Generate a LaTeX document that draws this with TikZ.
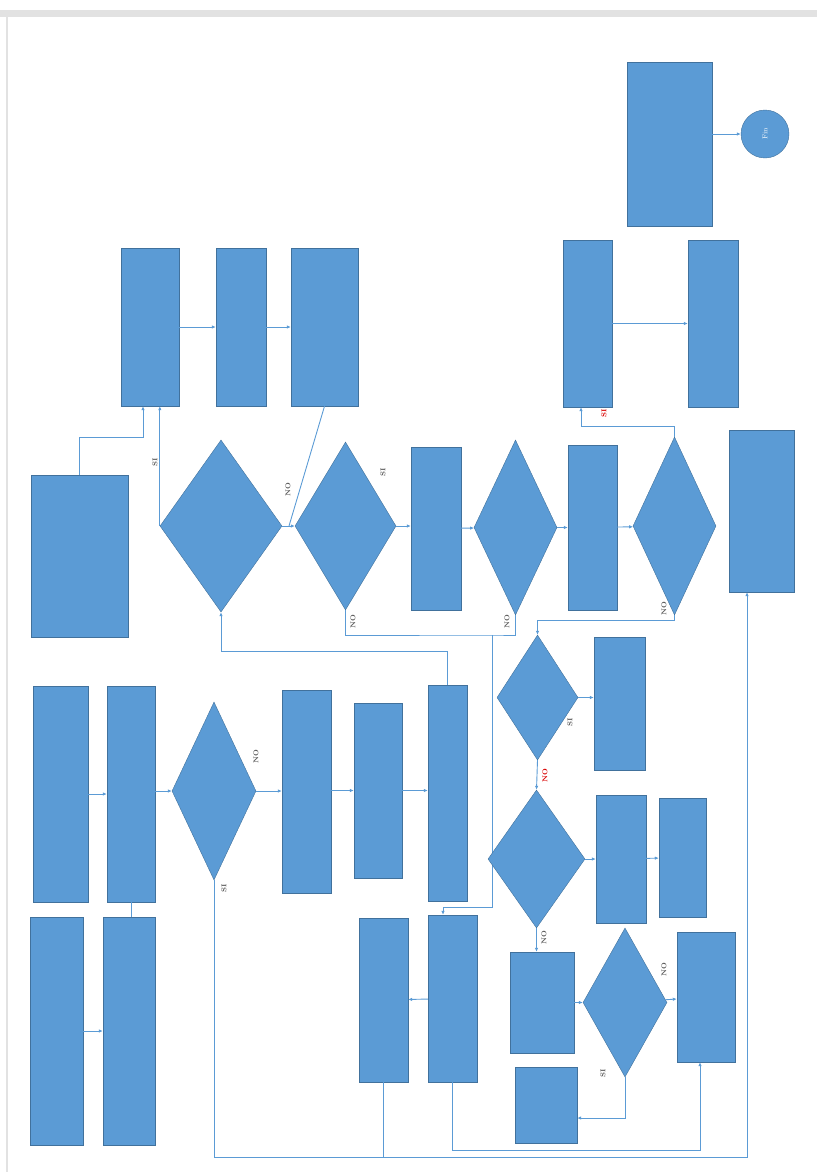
\documentclass[tikz,border=0pt]{standalone}
\usepackage{xcolor}
\usetikzlibrary{arrows.meta,shapes.geometric}
\definecolor{flowblue}{RGB}{91,155,213}
\definecolor{flowedge}{RGB}{65,113,156}
\definecolor{pagegray}{RGB}{226,226,226}

\begin{document}
\begin{tikzpicture}[
  x=1pt,y=-1pt,
  font=\scriptsize,
  box/.style={rectangle,draw=flowedge,fill=flowblue,inner sep=0pt},
  dec/.style={diamond,draw=flowedge,fill=flowblue,inner sep=0pt},
  term/.style={circle,draw=flowedge,fill=flowblue,inner sep=0pt,minimum size=48pt,text=white},
  link/.style={flowblue,line width=0.9pt},
  arr/.style={link,-{Latex[length=4pt,width=3.5pt]}},
  ans/.style={font=\scriptsize\bfseries,text=black!65,rotate=90,inner sep=1pt},
  ansred/.style={ans,text=red!85!black}
]
\useasboundingbox (0,0) rectangle (817,1172);

% page edge
\fill[pagegray] (0,10) rectangle (817,17);
\fill[pagegray] (6,17) rectangle (8,1172);

%%%%%%%%%%%%%%%%%%%%%%%%%%%%%%%%%%%%%%%%%%%%%%%%%%%%
% top row
%%%%%%%%%%%%%%%%%%%%%%%%%%%%%%%%%%%%%%%%%%%%%%%%%%%%
\node[box,minimum width=85pt,minimum height=164pt] (E1) at (669.5,144) {};
\node[term,rotate=90] (E2) at (765,134) {Fin};

\node[box,minimum width=58pt,minimum height=158pt] (A1) at (150,327) {};
\node[box,minimum width=50pt,minimum height=158pt] (A2) at (241,327) {};
\node[box,minimum width=67pt,minimum height=158pt] (A3) at (324.5,327) {};
\node[box,minimum width=49pt,minimum height=167pt] (B1) at (587.5,323.5) {};
\node[box,minimum width=50pt,minimum height=167pt] (B2) at (713,323.5) {};

\draw[arr] (E1.east |- E2) -- (E2);
\draw[arr] (A1) -- (A2);
\draw[arr] (A2) -- (A3);
\draw[arr] (B1) -- (B2);

%%%%%%%%%%%%%%%%%%%%%%%%%%%%%%%%%%%%%%%%%%%%%%%%%%%%
% middle row
%%%%%%%%%%%%%%%%%%%%%%%%%%%%%%%%%%%%%%%%%%%%%%%%%%%%
\node[box,minimum width=97pt,minimum height=162pt] (C0) at (79.5,556) {};
\node[dec,minimum width=122pt,minimum height=172pt] (D1) at (221,526) {};
\node[dec,minimum width=101pt,minimum height=168pt] (D2) at (345.5,526) {};
\node[box,minimum width=50pt,minimum height=163pt] (C2) at (436,528.5) {};
\node[dec,minimum width=83pt,minimum height=175pt] (D3) at (515.5,527.5) {};
\node[box,minimum width=49pt,minimum height=165pt] (C4) at (592.5,527.5) {};
\node[dec,minimum width=83pt,minimum height=178pt] (D5) at (674.5,526) {};
\node[box,minimum width=65pt,minimum height=162pt] (C6) at (761.5,511) {};

\coordinate (J1) at (289,526);
\coordinate (J3) at (492,635);

\draw[arr] (C0.north) -- ++(0,-37) -| ([xshift=-7pt]A1.south);
\draw[arr] (D1.west) -- (D1.west |- A1.south);
\node[ans] at (155,462) {SI};
\draw[arr] (D1.east) -- (D2.west);
\draw[link] (A3.south) -- (J1);
\node[ans] at (288,490) {NO};
\draw[arr] (D2.east) -- (D2.east -| C2.west);
\node[ans] at (383,472) {SI};
\draw[arr] (C2) -- (D3);
\draw[arr] (D3) -- (C4);
\draw[arr] (C4) -- (D5);

\draw[link] (D2.south) |- (J3) -| (D3.south);
\node[ans] at (353,622) {NO};
\node[ans] at (507,622) {NO};

\draw[arr] (D5.north) -- ++(0,-10) -| ([xshift=-6.5pt]B1.south);
\node[ansred] at (604,413) {SI};

%%%%%%%%%%%%%%%%%%%%%%%%%%%%%%%%%%%%%%%%%%%%%%%%%%%%
% lower left
%%%%%%%%%%%%%%%%%%%%%%%%%%%%%%%%%%%%%%%%%%%%%%%%%%%%
\node[box,minimum width=55pt,minimum height=216pt] (L1) at (60.5,794) {};
\node[box,minimum width=48pt,minimum height=216pt] (L2) at (131,794) {};
\node[dec,minimum width=84pt,minimum height=178pt] (D4) at (214,791) {};
\node[box,minimum width=49pt,minimum height=203pt] (M1) at (306.5,791.5) {};
\node[box,minimum width=48pt,minimum height=175pt] (M2) at (378,790.5) {};
\node[box,minimum width=39pt,minimum height=216pt] (M3) at (447.5,793) {};
\node[box,minimum width=53pt,minimum height=228pt] (L3) at (56.5,1031) {};
\node[box,minimum width=52pt,minimum height=228pt] (L4) at (129,1031) {};
\node[box,minimum width=49pt,minimum height=164pt] (M4) at (383.5,1000) {};
\node[box,minimum width=49pt,minimum height=167pt] (M5) at (452.5,998.5) {};

\coordinate (bus) at (214,1157);

\draw[arr] (L1.east) -- (L2.west);
\draw[arr] (L2.east |- D4.west) -- (D4.west);
\draw[arr] (D4.east) -- (D4.east -| M1.west);
\node[ans] at (256,757) {NO};
\draw[arr] (M1.east |- M2.west) -- (M2.west);
\draw[arr] (M2.east) -- (M2.east -| M3.west);
\draw[arr] (M3.north) -- ++(0,-33) -| (D1.south);
\draw[arr] (L3) -- (L4);
\draw[link] (L2.south) -- (L2.south |- L4.north);

\draw[arr] (J3) -- ++(0,272) -| ([xshift=-9.5pt]M5.north);
\draw[arr] (M5) -- (M4);
\draw[arr] (D4.south) -- (bus) -| ([xshift=-14.5pt]C6.south);
\node[ans] at (224,888) {SI};
\draw[link] (M4.south) -- (M4.south |- bus);

%%%%%%%%%%%%%%%%%%%%%%%%%%%%%%%%%%%%%%%%%%%%%%%%%%%%
% lower right
%%%%%%%%%%%%%%%%%%%%%%%%%%%%%%%%%%%%%%%%%%%%%%%%%%%%
\node[dec,minimum width=81pt,minimum height=125pt] (D6) at (537.5,697.5) {};
\node[box,minimum width=51pt,minimum height=133pt] (P1) at (619.5,703.5) {};
\node[dec,minimum width=97pt,minimum height=138pt] (D7) at (536.5,859) {};
\node[box,minimum width=50pt,minimum height=128pt] (Q1) at (621,859) {};
\node[box,minimum width=47pt,minimum height=119pt] (Q2) at (682.5,857.5) {};
\node[box,minimum width=64pt,minimum height=101pt] (R1) at (542,1002.5) {};
\node[dec,minimum width=84pt,minimum height=149pt] (D8) at (625,1002.5) {};
\node[box,minimum width=58pt,minimum height=130pt] (R2) at (706,997) {};
\node[box,minimum width=62pt,minimum height=76pt] (R3) at (546,1105) {};

\draw[arr] (D5.south) -- ++(0,5) -| (D6.north);
\node[ans] at (664,609) {NO};
\draw[arr] (D6.east) -- (D6.east -| P1.west);
\node[ans] at (570,722) {SI};
\draw[arr] (D6.south) -- (D7.north);
\node[ansred] at (545,776) {NO};
\draw[arr] (D7) -- (Q1);
\draw[arr] (Q1) -- (Q2);
\draw[arr] (D7.south) -- (D7.south |- R1.north);
\node[ans] at (544,938) {NO};
\draw[arr] (R1) -- (D8);
\draw[arr] (D8) -- (R2);
\node[ans] at (664,970) {NO};
\draw[arr] (D8.south) |- ([yshift=-13pt]R3.east);
\node[ans] at (603,1073) {SI};
\draw[arr] (M5.south) -- ++(0,68) -| ([xshift=-6pt]R2.south);

\end{tikzpicture}
\end{document}
